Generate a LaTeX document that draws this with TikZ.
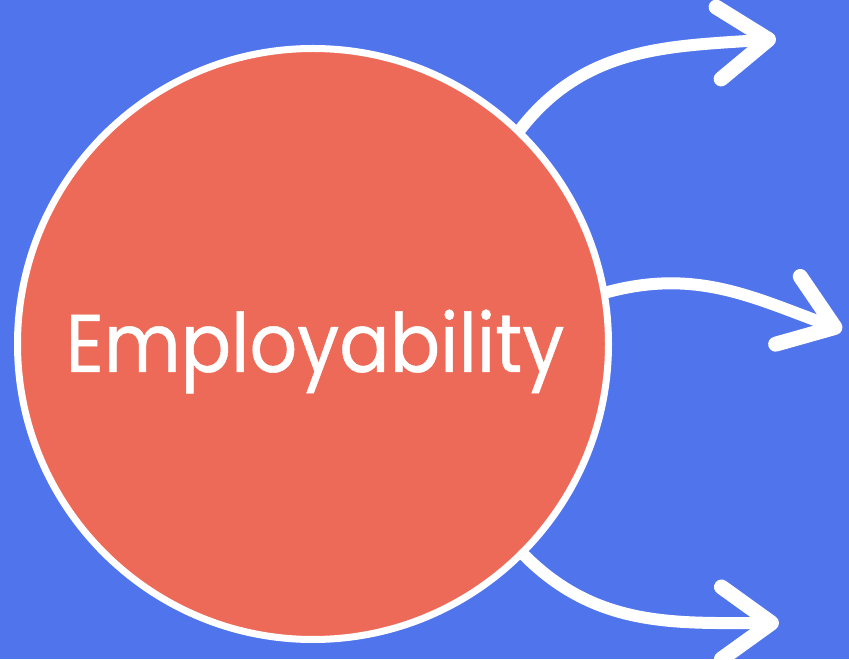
\documentclass[tikz,border=0pt]{standalone}
\usepackage{fontspec}
\setmainfont[FakeStretch=0.91,FakeBold=0.6]{Poppins}
\usetikzlibrary{arrows.meta}
\definecolor{bgblue}{RGB}{79,116,236}
\definecolor{hubred}{RGB}{237,106,88}
\tikzset{hub/.style={
    % The shape:
    circle,
    % The size:
    minimum size=591pt,
    inner sep=0pt,
    % The border:
    line width=7pt,
    draw=white,
    % The filling:
    fill=hubred,
    },
    hublabel/.style={
    text=white,
    font=\fontsize{82}{90}\selectfont,
    inner sep=0pt,
    },
    brush/.style={
    draw=white,
    line width=12pt,
    line cap=round,
    -{Straight Barb[length=50pt,width=72pt,line width=15pt,round]},
    },
}

\begin{document}
\begin{tikzpicture}[x=1pt,y=1pt]
    \useasboundingbox[fill=bgblue] (0,0) rectangle (849,659);
    \node (emp)   [hub] at (313,315) {};
    \node (label) [hublabel,anchor=base] at (315,287) {Employability};

    \coordinate (up)   at (776,620);
    \coordinate (side) at (842,329);
    \coordinate (down) at (779,36);

    \draw[brush] (emp.46)  to[out=52,in=184]  (up);
    \draw[brush] (emp.10)  to[out=15,in=160]  (side);
    \draw[brush] (emp.-45) to[out=-45,in=180] (down);
\end{tikzpicture}
\end{document}
